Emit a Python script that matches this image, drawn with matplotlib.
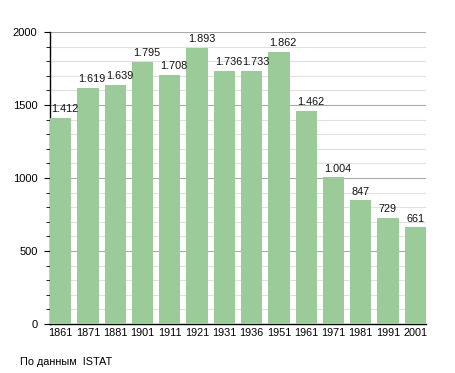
import matplotlib
matplotlib.use("Agg")
import matplotlib.pyplot as plt
from matplotlib.ticker import MultipleLocator

years = ["1861", "1871", "1881", "1901", "1911", "1921", "1931", "1936", "1951", "1961", "1971", "1981", "1991", "2001"]
population = [1412, 1619, 1639, 1795, 1708, 1893, 1736, 1733, 1862, 1462, 1004, 847, 729, 661]
value_labels = ["1.412", "1.619", "1.639", "1.795", "1.708", "1.893", "1.736", "1.733", "1.862", "1.462", "1.004", "847", "729", "661"]

plt.rcParams['font.family'] = ['Liberation Sans', 'DejaVu Sans']

fig = plt.figure(figsize=(4.55, 3.73), dpi=100)
ax = fig.add_axes([50/455, 1-324/373, 376/455, 292/373])

w = 0.78
x = list(range(len(years)))
ax.bar(x, population, width=w, color="#9acb98", zorder=3)
for xi, v, lab in zip(x, population, value_labels):
    ax.text(xi - w/2 + 0.05, v + 25, lab, ha="left", va="bottom", fontsize=7.8, color="#111111", zorder=4)

ax.set_xlim(-w/2, len(years) - 1 + w/2)
ax.set_ylim(0, 2000)
ax.set_xticks(x)
ax.set_xticklabels(years, fontsize=7.8)
ax.tick_params(axis="x", length=0, pad=3)
ax.yaxis.set_major_locator(MultipleLocator(500))
ax.yaxis.set_minor_locator(MultipleLocator(100))
ax.tick_params(axis="y", which="major", length=4, labelsize=8, pad=5)
ax.tick_params(axis="y", which="minor", length=3)
ax.grid(axis="y", which="major", color="#aaaaaa", linewidth=0.8, zorder=1)
ax.grid(axis="y", which="minor", color="#e0e0e0", linewidth=0.8, zorder=0)
for s in ["top", "right"]:
    ax.spines[s].set_visible(False)
ax.spines["left"].set_linewidth(1.0)
ax.spines["bottom"].set_linewidth(1.0)

fig.text(20/455, 1-362/373, "По данным  ISTAT", fontsize=7.8, ha="left", va="center")

fig.savefig("out.png", dpi=100)
